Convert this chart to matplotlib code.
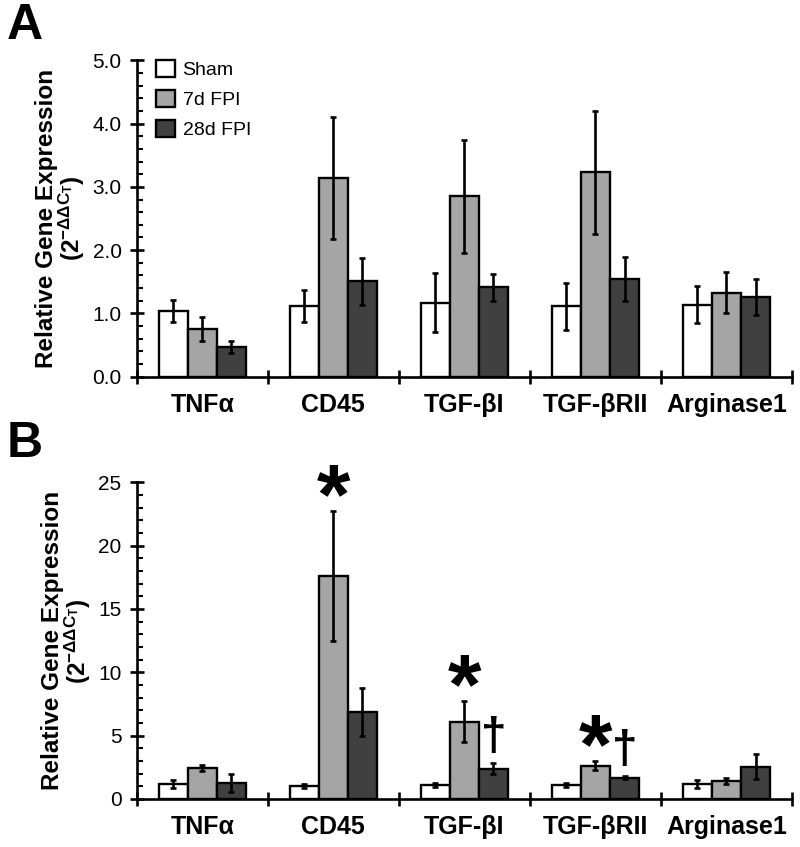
import matplotlib.pyplot as plt
import numpy as np

plt.rcParams['font.family'] = ['Liberation Sans', 'DejaVu Sans']
plt.rcParams['mathtext.fontset'] = 'custom'
plt.rcParams['mathtext.rm'] = 'Liberation Sans:bold'
plt.rcParams['mathtext.bf'] = 'Liberation Sans:bold'
plt.rcParams['mathtext.it'] = 'Liberation Sans:bold'

# gene names on the x axis
genes = ['TNFα', 'CD45', 'TGF-βI', 'TGF-βRII', 'Arginase1']
groups = ['Sham', '7d FPI', '28d FPI']
colors = ['white', '#a5a5a5', '#404040']

# panel A values (mean, error)
a_sham = [1.04, 1.12, 1.17, 1.11, 1.14]
a_sham_err = [0.17, 0.25, 0.47, 0.37, 0.29]
a_7d = [0.75, 3.14, 2.85, 3.23, 1.33]
a_7d_err = [0.19, 0.97, 0.89, 0.97, 0.32]
a_28d = [0.47, 1.51, 1.41, 1.54, 1.26]
a_28d_err = [0.09, 0.37, 0.21, 0.35, 0.29]

# panel B values (mean, error)
b_sham = [1.16, 1.05, 1.10, 1.10, 1.18]
b_sham_err = [0.30, 0.15, 0.15, 0.15, 0.35]
b_7d = [2.47, 17.6, 6.10, 2.63, 1.42]
b_7d_err = [0.25, 5.1, 1.6, 0.35, 0.27]
b_28d = [1.24, 6.84, 2.40, 1.68, 2.55]
b_28d_err = [0.72, 1.9, 0.45, 0.10, 0.98]

# significance marks in panel B: (gene index, group index, symbol)
marks = [(1, 1, '*'), (2, 1, '*'), (2, 2, '†'), (3, 1, '*'), (3, 2, '†')]

fig = plt.figure(figsize=(8, 8.47), dpi=100)
axA = fig.add_axes([0.171, 0.5553, 0.819, 0.3735])
axB = fig.add_axes([0.171, 0.0567, 0.819, 0.3739])

x = np.arange(len(genes)) + 0.5
width = 0.222
offsets = [-0.222, 0, 0.222]


def draw_panel(ax, means, errs, ymax, major, minor, fmt):
    for k in range(3):
        ax.bar(x + offsets[k], means[k], width, color=colors[k],
               edgecolor='black', linewidth=1.7, label=groups[k], zorder=2)
        ax.errorbar(x + offsets[k], means[k], yerr=errs[k], fmt='none',
                    ecolor='black', elinewidth=1.9, capsize=2.5,
                    capthick=1.9, zorder=3)
    ax.set_xlim(0, len(genes))
    ax.set_ylim(0, ymax)
    for s in ['top', 'right']:
        ax.spines[s].set_visible(False)
    for s in ['left', 'bottom']:
        ax.spines[s].set_linewidth(1.9)
    ax.set_yticks(np.arange(0, ymax + 0.001, major))
    ax.set_yticks(np.arange(0, ymax + 0.001, minor), minor=True)
    ax.set_yticklabels([fmt.format(v) for v in np.arange(0, ymax + 0.001, major)],
                       fontsize=15)
    ax.tick_params(axis='y', which='major', direction='inout', length=10, width=1.9, pad=6)
    ax.tick_params(axis='y', which='minor', direction='in', length=4.5, width=1.5)
    ax.set_xticks(np.arange(len(genes) + 1))
    ax.set_xticklabels([])
    ax.set_xticks(x, minor=True)
    ax.set_xticklabels(genes, minor=True, fontsize=18, fontweight='bold')
    ax.tick_params(axis='x', which='major', direction='inout', length=10, width=1.9)
    ax.tick_params(axis='x', which='minor', length=0, pad=11.5)
    ax.set_ylabel('Relative Gene Expression\n' + r'$\mathbf{(2^{-\Delta\Delta C_T})}$',
                  fontsize=17.5, fontweight='bold', linespacing=0.95, labelpad=4)


draw_panel(axA, [a_sham, a_7d, a_28d], [a_sham_err, a_7d_err, a_28d_err],
           5.0, 1.0, 0.2, '{:.1f}')
draw_panel(axB, [b_sham, b_7d, b_28d], [b_sham_err, b_7d_err, b_28d_err],
           25, 5, 1, '{:.0f}')

leg = axA.legend(loc='upper left', bbox_to_anchor=(0.003, 1.055), frameon=False,
                 fontsize=14, handlelength=0.95, handleheight=0.95,
                 handletextpad=0.4, labelspacing=0.55)

b_means = [b_sham, b_7d, b_28d]
b_errs = [b_sham_err, b_7d_err, b_28d_err]
for gi, k, sym in marks:
    top = b_means[k][gi] + b_errs[k][gi]
    if sym == '*':
        axB.text(x[gi] + offsets[k], top + 1.5, sym, ha='center', va='center_baseline',
                 fontsize=62, fontweight='bold', clip_on=False)
    else:
        axB.text(x[gi] + offsets[k], top + 2.0, sym, ha='center', va='center',
                 fontsize=33, fontweight='bold', clip_on=False)

fig.text(0.008, 0.997, 'A', fontsize=36, fontweight='bold', va='top')
fig.text(0.008, 0.503, 'B', fontsize=36, fontweight='bold', va='top')

plt.savefig('out.png', dpi=100)
